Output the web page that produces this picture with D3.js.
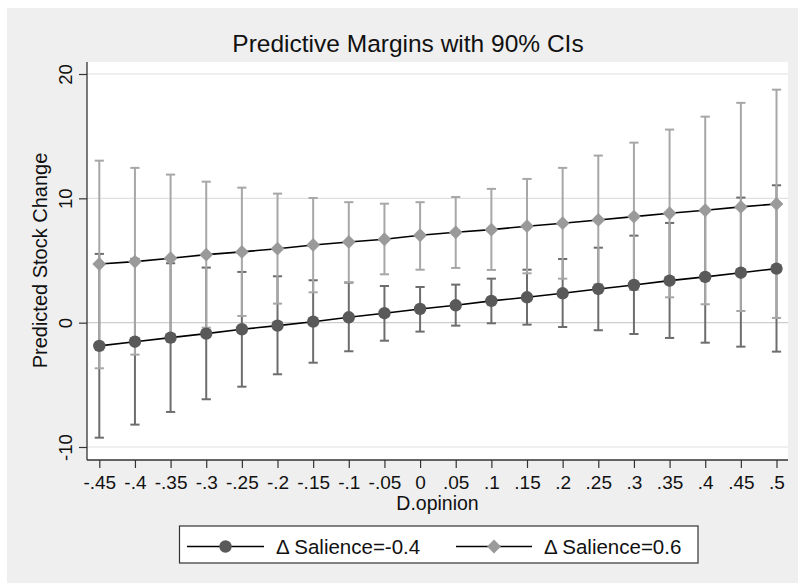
<!DOCTYPE html>
<html>
<head>
<meta charset="utf-8">
<script src="https://cdn.jsdelivr.net/npm/d3@7"></script>
<style>
  html, body { margin: 0; padding: 0; background: #ffffff; }
  svg { display: block; }
  text { font-family: "Liberation Sans", Arial, Helvetica, sans-serif; fill: #111; }
</style>
</head>
<body>
<svg id="chart" width="798" height="583"></svg>
<script>
// ---- data ----
const xValues = [-0.45, -0.4, -0.35, -0.3, -0.25, -0.2, -0.15, -0.1, -0.05, 0, 0.05, 0.1, 0.15, 0.2, 0.25, 0.3, 0.35, 0.4, 0.45, 0.5];
const xTickLabels = ["-.45", "-.4", "-.35", "-.3", "-.25", "-.2", "-.15", "-.1", "-.05", "0", ".05", ".1", ".15", ".2", ".25", ".3", ".35", ".4", ".45", ".5"];
const yTickValues = [-10, 0, 10, 20];
const yTickLabels = ["-10", "0", "10", "20"];

const seriesNames = ["\u0394 Salience=-0.4", "\u0394 Salience=0.6"];
// Δ Salience = -0.4
const lowMargin = [-1.87, -1.53, -1.20, -0.88, -0.53, -0.24, 0.08, 0.43, 0.76, 1.10, 1.40, 1.75, 2.04, 2.36, 2.71, 3.03, 3.38, 3.68, 4.02, 4.35];
const lowLower  = [-9.25, -8.20, -7.18, -6.16, -5.15, -4.15, -3.22, -2.30, -1.45, -0.72, -0.24, -0.05, -0.16, -0.35, -0.61, -0.91, -1.23, -1.61, -1.93, -2.33];
const lowUpper  = [5.53, 5.14, 4.78, 4.43, 4.08, 3.73, 3.41, 3.22, 2.95, 2.87, 3.06, 3.54, 4.26, 5.12, 6.03, 7.00, 8.02, 8.97, 10.06, 11.05];
// Δ Salience = 0.6
const highMargin = [4.72, 4.91, 5.18, 5.47, 5.69, 5.95, 6.25, 6.49, 6.71, 7.03, 7.27, 7.48, 7.76, 8.00, 8.26, 8.53, 8.80, 9.04, 9.31, 9.55];
const highLower  = [-3.67, -2.57, -1.55, -0.40, 0.54, 1.53, 2.44, 3.25, 3.89, 4.26, 4.40, 4.24, 3.97, 3.54, 3.08, 2.63, 2.04, 1.48, 0.94, 0.38];
const highUpper  = [13.03, 12.45, 11.91, 11.34, 10.86, 10.38, 10.03, 9.69, 9.57, 9.69, 10.11, 10.76, 11.56, 12.45, 13.44, 14.48, 15.53, 16.57, 17.68, 18.74];

const titleText = "Predictive Margins with 90% CIs";
const xTitle = "D.opinion";
const yTitle = "Predicted Stock Change";

// ---- layout ----
const svg = d3.select("#chart");
const W = 798, H = 583;
const plot = { left: 87, right: 788, top: 62, bottom: 460 };

svg.append("rect").attr("x", 0).attr("y", 0).attr("width", W).attr("height", H).attr("fill", "#ffffff");
svg.append("rect").attr("x", 7).attr("y", 8).attr("width", W - 7).attr("height", H - 8).attr("fill", "#efefef");
svg.append("rect").attr("x", plot.left).attr("y", plot.top)
   .attr("width", plot.right - plot.left).attr("height", plot.bottom - plot.top).attr("fill", "#ffffff");

const x = d3.scaleLinear().domain([-0.45, 0.5]).range([99.3, 776.5]);
const y = d3.scaleLinear().domain([-10, 20]).range([447, 74]);

// gridlines
svg.append("g").selectAll("line").data(yTickValues).join("line")
  .attr("x1", plot.left).attr("x2", plot.right)
  .attr("y1", d => y(d)).attr("y2", d => y(d))
  .attr("stroke", d => d === 0 ? "#cdcdcd" : "#e0e0e0").attr("stroke-width", 1.2);

// axes
const yAxis = d3.axisLeft(y).tickValues(yTickValues).tickSize(8)
  .tickFormat((d, i) => yTickLabels[i]);
const gy = svg.append("g").attr("transform", `translate(${plot.left},0)`).call(yAxis);
gy.select(".domain").remove();
gy.selectAll(".tick line").attr("stroke", "#333").attr("stroke-width", 1.2);
gy.selectAll(".tick text")
  .attr("x", 0).attr("dy", null)
  .attr("transform", "translate(-15,0) rotate(-90)")
  .attr("text-anchor", "middle")
  .attr("font-size", 18.5).attr("fill", "#111");
svg.append("line").attr("x1", plot.left).attr("x2", plot.left)
  .attr("y1", plot.top).attr("y2", plot.bottom).attr("stroke", "#333").attr("stroke-width", 1.3);

const xAxis = d3.axisBottom(x).tickValues(xValues).tickSize(8)
  .tickFormat((d, i) => xTickLabels[i]);
const gx = svg.append("g").attr("transform", `translate(0,${plot.bottom})`).call(xAxis);
gx.select(".domain").remove();
gx.selectAll(".tick line").attr("stroke", "#333").attr("stroke-width", 1.2);
gx.selectAll(".tick text").attr("y", 29).attr("dy", null)
  .attr("font-size", 19).attr("fill", "#111");
svg.append("line").attr("x1", plot.left).attr("x2", plot.right)
  .attr("y1", plot.bottom).attr("y2", plot.bottom).attr("stroke", "#333").attr("stroke-width", 1.3);

// titles
svg.append("text").attr("x", 408).attr("y", 52).attr("text-anchor", "middle")
  .attr("font-size", 24.5).text(titleText);
svg.append("text").attr("x", (plot.left + plot.right) / 2).attr("y", 509.5).attr("text-anchor", "middle")
  .attr("font-size", 19.5).text(xTitle);
svg.append("text").attr("transform", `translate(47,${(y(20) + y(-10)) / 2}) rotate(-90)`)
  .attr("text-anchor", "middle").attr("font-size", 20).text(yTitle);

// series
const series = [
  { name: seriesNames[0], m: lowMargin, lo: lowLower, hi: lowUpper, ci: "#6d6d6d", mk: "#595959", shape: "circle" },
  { name: seriesNames[1], m: highMargin, lo: highLower, hi: highUpper, ci: "#a7a7a7", mk: "#9a9a9a", shape: "diamond" }
];

const capHalf = 4.6;
series.forEach(s => {
  const g = svg.append("g");
  const idx = d3.range(xValues.length);
  g.selectAll("line.bar").data(idx).join("line").attr("class", "bar")
    .attr("x1", i => x(xValues[i])).attr("x2", i => x(xValues[i]))
    .attr("y1", i => y(s.lo[i])).attr("y2", i => y(s.hi[i]))
    .attr("stroke", s.ci).attr("stroke-width", 2);
  g.selectAll("line.capHi").data(idx).join("line").attr("class", "capHi")
    .attr("x1", i => x(xValues[i]) - capHalf).attr("x2", i => x(xValues[i]) + capHalf)
    .attr("y1", i => y(s.hi[i])).attr("y2", i => y(s.hi[i]))
    .attr("stroke", s.ci).attr("stroke-width", 2);
  g.selectAll("line.capLo").data(idx).join("line").attr("class", "capLo")
    .attr("x1", i => x(xValues[i]) - capHalf).attr("x2", i => x(xValues[i]) + capHalf)
    .attr("y1", i => y(s.lo[i])).attr("y2", i => y(s.lo[i]))
    .attr("stroke", s.ci).attr("stroke-width", 2);
});

function drawMarker(g, cx, cy, s) {
  if (s.shape === "circle") {
    g.append("circle").attr("cx", cx).attr("cy", cy).attr("r", 6.2).attr("fill", s.mk);
  } else {
    const r = 6.9;
    g.append("path").attr("d", `M${cx},${cy - r}L${cx + r},${cy}L${cx},${cy + r}L${cx - r},${cy}Z`).attr("fill", s.mk);
  }
}

const lineGen = d3.line().x(d => x(d[0])).y(d => y(d[1]));
series.forEach(s => {
  const g = svg.append("g");
  g.append("path").attr("d", lineGen(xValues.map((v, i) => [v, s.m[i]])))
    .attr("fill", "none").attr("stroke", "#000").attr("stroke-width", 1.6);
  xValues.forEach((v, i) => drawMarker(g, x(v), y(s.m[i]), s));
});

// legend
const lg = svg.append("g");
lg.append("rect").attr("x", 179.5).attr("y", 526).attr("width", 518.5).attr("height", 37)
  .attr("fill", "#ffffff").attr("stroke", "#333").attr("stroke-width", 1.2);
const legendItems = [
  { s: series[0], x0: 187, x1: 264, tx: 276 },
  { s: series[1], x0: 456, x1: 532, tx: 544 }
];
legendItems.forEach(it => {
  const ly = 546.5;
  lg.append("line").attr("x1", it.x0).attr("x2", it.x1).attr("y1", ly).attr("y2", ly)
    .attr("stroke", "#000").attr("stroke-width", 1.6);
  drawMarker(lg, (it.x0 + it.x1) / 2, ly, it.s);
  lg.append("text").attr("x", it.tx).attr("y", 554).attr("font-size", 20.5).text(it.s.name);
});
</script>
</body>
</html>
